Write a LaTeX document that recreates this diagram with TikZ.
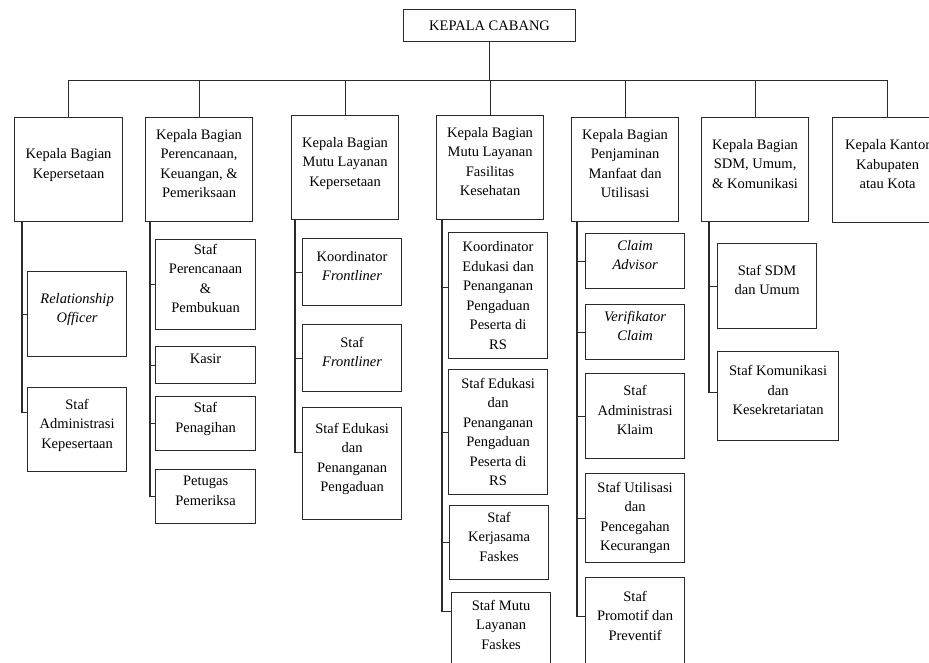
\documentclass[tikz,border=0pt]{standalone}
\usepackage{fontspec}
\setmainfont{Liberation Serif}
\usetikzlibrary{positioning}
\definecolor{Line}{HTML}{2B2B2B}
\tikzset{
    box/.style={draw=Line, line width=1.2pt, anchor=north west, align=center,
        inner sep=2pt, text depth=12pt, font=\fontsize{14.5}{19.5}\selectfont},
    tight/.style={text depth={}},
    link/.style={draw=Line, line width=1.2pt},
}

\begin{document}
\begin{tikzpicture}[x=1pt, y=-1pt]

    \useasboundingbox (0,0) rectangle (929,662);

    % top
    \node[box, tight, minimum width=172, minimum height=32] (kc) at (403,9) {KEPALA CABANG};

    % heads of section
    \node[box, minimum width=108, minimum height=104] (h1) at (14,117) {Kepala Bagian\\Kepersetaan};
    \node[box, minimum width=107, minimum height=104] (h2) at (145,117) {Kepala Bagian\\Perencanaan,\\Keuangan, \&\\Pemeriksaan};
    \node[box, minimum width=107, minimum height=104] (h3) at (291,115) {Kepala Bagian\\Mutu Layanan\\Kepersetaan};
    \node[box, minimum width=107, minimum height=104] (h4) at (436,115) {Kepala Bagian\\Mutu Layanan\\Fasilitas\\Kesehatan};
    \node[box, minimum width=107, minimum height=104] (h5) at (571,117) {Kepala Bagian\\Penjaminan\\Manfaat dan\\Utilisasi};
    \node[box, minimum width=107, minimum height=104] (h6) at (701,117) {Kepala Bagian\\SDM, Umum,\\\& Komunikasi};
    \node[box, minimum width=110, minimum height=105] (h7) at (832,117) {Kepala Kantor\\Kabupaten\\atau Kota};

    \draw[link] (kc.south) -- ++(0,38) coordinate (bus);
    \draw[link] (h1.north) |- (bus) -| (h7.north);
    \foreach \h in {h2,h3,h4,h5,h6}
        \draw[link] (\h.north) -- (\h.north |- bus);

    % Kepersetaan
    \node[box, minimum width=99, minimum height=85] (a1) at (27,271) {\textit{Relationship}\\\textit{Officer}};
    \node[box, minimum width=99, minimum height=84] (a2) at (27,387) {Staf\\Administrasi\\Kepesertaan};
    \coordinate (sp1) at ([xshift=8pt]h1.south west);
    \draw[link] (sp1) |- ([yshift=17pt]a2.west);
    \draw[link] (a1.west) -- (a1.west -| sp1);

    % Perencanaan, Keuangan
    \node[box, minimum width=100, minimum height=90] (b1) at (155,239) {Staf\\Perencanaan\\\&\\Pembukuan};
    \node[box, minimum width=100, minimum height=37] (b2) at (155,346) {Kasir};
    \node[box, minimum width=100, minimum height=54] (b3) at (155,396) {Staf\\Penagihan};
    \node[box, minimum width=100, minimum height=54] (b4) at (155,469) {Petugas\\Pemeriksa};
    \coordinate (sp2) at ([xshift=5pt]h2.south west);
    \draw[link] (sp2) |- (b4.west);
    \foreach \c in {b1,b2,b3}
        \draw[link] (\c.west) -- (\c.west -| sp2);

    % Mutu Layanan Kepersetaan
    \node[box, minimum width=99, minimum height=67] (c1) at (302,238) {Koordinator\\\textit{Frontliner}};
    \node[box, minimum width=99, minimum height=67] (c2) at (302,324) {Staf\\\textit{Frontliner}};
    \node[box, minimum width=99, minimum height=112] (c3) at (302,407) {Staf Edukasi\\dan\\Penanganan\\Pengaduan};
    \coordinate (sp3) at ([xshift=4pt]h3.south west);
    \draw[link] (sp3) |- ([yshift=11pt]c3.west);
    \foreach \c in {c1,c2}
        \draw[link] (\c.west) -- (\c.west -| sp3);

    % Mutu Layanan Faskes
    \node[box, tight, minimum width=99, minimum height=126] (d1) at (448,232) {Koordinator\\Edukasi dan\\Penanganan\\Pengaduan\\Peserta di\\RS};
    \node[box, tight, minimum width=99, minimum height=125] (d2) at (448,369) {Staf Edukasi\\dan\\Penanganan\\Pengaduan\\Peserta di\\RS};
    \node[box, minimum width=99, minimum height=74] (d3) at (449,505) {Staf\\Kerjasama\\Faskes};
    \node[box, minimum width=99, minimum height=76] (d4) at (451,592) {Staf Mutu\\Layanan\\Faskes};
    \coordinate (sp4) at ([xshift=6pt]h4.south west);
    \draw[link] (sp4) |- ([yshift=19pt]d4.west);
    \draw[link] ([yshift=8pt]d1.west) -- ([yshift=8pt]d1.west -| sp4);
    \foreach \c in {d2,d3}
        \draw[link] (\c.west) -- (\c.west -| sp4);

    % Penjaminan Manfaat
    \node[box, minimum width=99, minimum height=55] (e1) at (585,233) {\textit{Claim}\\\textit{Advisor}};
    \node[box, minimum width=99, minimum height=55] (e2) at (585,304) {\textit{Verifikator}\\\textit{Claim}};
    \node[box, minimum width=99, minimum height=85] (e3) at (585,373) {Staf\\Administrasi\\Klaim};
    \node[box, tight, minimum width=99, minimum height=89] (e4) at (585,473) {Staf Utilisasi\\dan\\Pencegahan\\Kecurangan};
    \node[box, minimum width=99, minimum height=88] (e5) at (585,577) {Staf\\Promotif dan\\Preventif};
    \coordinate (sp5) at ([xshift=6pt]h5.south west);
    \draw[link] (sp5) |- ([yshift=5pt]e5.west);
    \foreach \c in {e1,e2,e3,e4}
        \draw[link] (\c.west) -- (\c.west -| sp5);

    % SDM, Umum
    \node[box, minimum width=99, minimum height=85] (f1) at (717,243) {Staf SDM\\dan Umum};
    \node[box, minimum width=121, minimum height=89] (f2) at (717,351) {Staf Komunikasi\\dan\\Kesekretariatan};
    \coordinate (sp6) at ([xshift=8pt]h6.south west);
    \draw[link] (sp6) |- ([yshift=4pt]f2.west);
    \draw[link] (f1.west) -- (f1.west -| sp6);

\end{tikzpicture}
\end{document}
